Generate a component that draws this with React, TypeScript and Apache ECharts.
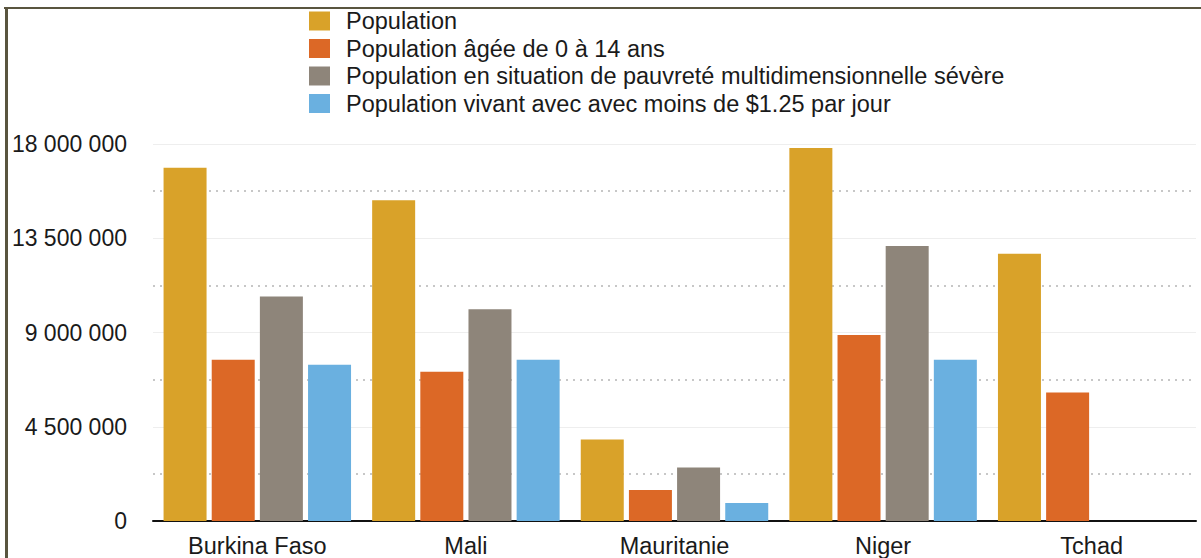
import React, { useEffect, useRef } from "react";
import * as echarts from "echarts";

const categories = ["Burkina Faso", "Mali", "Mauritanie", "Niger", "Tchad"];
const seriesNames = [
  "Population",
  "Population âgée de 0 à 14 ans",
  "Population en situation de pauvreté multidimensionnelle sévère",
  "Population vivant avec avec moins de $1.25 par jour",
];
const population = [16870000, 15310000, 3890000, 17810000, 12760000];
const population0to14 = [7700000, 7130000, 1480000, 8880000, 6140000];
const severePoverty = [10720000, 10110000, 2550000, 13130000, null];
const under125 = [7460000, 7700000, 860000, 7700000, null];
const colors = ["#D9A229", "#DC6826", "#8E857A", "#6AB0E0"];
const yTicks = { min: 0, max: 18000000, interval: 4500000 };

const fmt = (v: number) => String(v).replace(/\B(?=(\d{3})+(?!\d))/g, " ");

export default function App() {
  const ref = useRef<HTMLDivElement>(null);
  useEffect(() => {
    if (!ref.current) return;
    const chart = echarts.init(ref.current, null, { renderer: "svg" });
    const data = [population, population0to14, severePoverty, under125];
    const font = "Liberation Sans, Arial, sans-serif";
    chart.setOption({
      animation: false,
      color: colors,
      textStyle: { fontFamily: font },
      legend: {
        orient: "vertical",
        left: 309,
        top: 9,
        padding: 0,
        icon: "rect",
        itemWidth: 21,
        itemHeight: 19,
        itemGap: 3.5,
        selectedMode: false,
        textStyle: {
          fontSize: 23.5,
          lineHeight: 22,
          color: "#1a1a1a",
          fontFamily: font,
          padding: [0, 0, 0, 11],
        },
        data: seriesNames,
      },
      grid: { left: 153, right: 5, top: 144, bottom: 28, containLabel: false },
      xAxis: {
        type: "category",
        data: categories,
        axisLine: { show: true, lineStyle: { color: "#111", width: 2 } },
        axisTick: { show: false },
        axisLabel: { fontSize: 23.5, color: "#1a1a1a", margin: 13, fontFamily: font },
        splitLine: { show: false },
      },
      yAxis: {
        type: "value",
        min: yTicks.min,
        max: yTicks.max,
        interval: yTicks.interval,
        axisLine: { show: false },
        axisTick: { show: false },
        axisLabel: { fontSize: 23, color: "#1a1a1a", margin: 26, formatter: fmt, fontFamily: font },
        splitLine: { show: true, lineStyle: { color: "#eeeeee", width: 1 } },
        minorTick: { show: false, splitNumber: 2 },
        minorSplitLine: { show: true, lineStyle: { color: "#b5b5b5", type: [2, 5], width: 1.5 } },
      },
      series: seriesNames.map((name, i) => ({
        name,
        type: "bar",
        data: data[i],
        barWidth: 43,
        barGap: "12%",
        itemStyle: { color: colors[i] },
      })),
      graphic: [
        { type: "line", shape: { x1: 4, y1: 8, x2: 1201, y2: 8 }, style: { stroke: "#59553f", lineWidth: 2 } },
        { type: "line", shape: { x1: 6.5, y1: 7, x2: 6.5, y2: 558 }, style: { stroke: "#59553f", lineWidth: 3 } },
      ],
    });
    return () => chart.dispose();
  }, []);
  return (
    <div
      ref={ref}
      style={{ position: "fixed", left: 0, top: 0, width: 1201, height: 558, background: "#fff" }}
    />
  );
}
